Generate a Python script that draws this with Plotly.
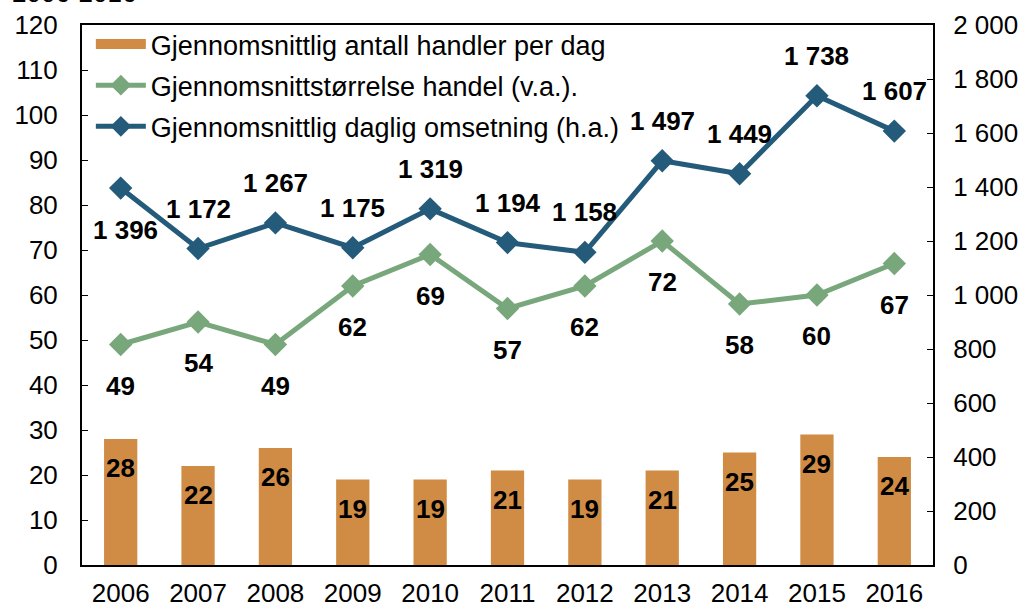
import plotly.graph_objects as go

years = [2006, 2007, 2008, 2009, 2010, 2011, 2012, 2013, 2014, 2015, 2016]
antall_handler = [28, 22, 26, 19, 19, 21, 19, 21, 25, 29, 24]
storrelse = [49, 54, 49, 62, 69, 57, 62, 72, 58, 60, 67]
omsetning = [1396, 1172, 1267, 1175, 1319, 1194, 1158, 1497, 1449, 1738, 1607]
left_ticks = [0, 10, 20, 30, 40, 50, 60, 70, 80, 90, 100, 110, 120]
right_ticks = [0, 200, 400, 600, 800, 1000, 1200, 1400, 1600, 1800, 2000]
right_ticktext = ["0", "200", "400", "600", "800", "1 000", "1 200", "1 400", "1 600", "1 800", "2 000"]
blue_label_above = [False, True, True, True, True, True, True, True, True, True, True]

C_BAR = "#D08C44"
C_GREEN = "#79A77C"
C_BLUE = "#245A7A"
FONT = "Liberation Sans, Arial, sans-serif"
NAME_BAR = "Gjennomsnittlig antall handler per dag"


def fmt(v):
    return f"{v:,}".replace(",", " ")


fig = go.Figure()
fig.add_trace(go.Bar(
    x=years, y=antall_handler, name=NAME_BAR,
    marker=dict(color=C_BAR, line=dict(width=0)), width=0.43, showlegend=False,
))
# legend proxy showing a wide rectangle like the original legend key
fig.add_trace(go.Scatter(
    x=[None], y=[None], name=NAME_BAR, mode="lines",
    line=dict(color=C_BAR, width=12), legendgroup="a",
))
fig.add_trace(go.Scatter(
    x=years, y=storrelse, name="Gjennomsnittstørrelse handel (v.a.).",
    mode="lines+markers", line=dict(color=C_GREEN, width=5),
    marker=dict(symbol="diamond", size=18, color=C_GREEN), legendgroup="b",
))
fig.add_trace(go.Scatter(
    x=years, y=omsetning, name="Gjennomsnittlig daglig omsetning (h.a.)",
    mode="lines+markers", line=dict(color=C_BLUE, width=5),
    marker=dict(symbol="diamond", size=18, color=C_BLUE), yaxis="y2", legendgroup="c",
))

lab_font = dict(family=FONT, size=26, color="black", weight="bold")
annotations = []
for x, v in zip(years, antall_handler):
    annotations.append(dict(x=x, y=v, xref="x", yref="y", text=str(v), showarrow=False,
                            yshift=-29, font=lab_font))
for x, v in zip(years, storrelse):
    annotations.append(dict(x=x, y=v, xref="x", yref="y", text=str(v), showarrow=False,
                            yshift=-41, font=lab_font))
for x, v, up in zip(years, omsetning, blue_label_above):
    annotations.append(dict(x=x, y=v, xref="x", yref="y2", text=fmt(v), showarrow=False,
                            yshift=40 if up else -42, xshift=0 if up else 5, font=lab_font))
annotations.append(dict(x=-0.0846, y=1.0278, xref="paper", yref="paper", xanchor="left",
                        yanchor="bottom", text="2006-2016", showarrow=False,
                        font=dict(family=FONT, size=26, color="black")))

axis_font = dict(family=FONT, size=26, color="black")
fig.update_layout(
    width=1021, height=607,
    margin=dict(l=82, r=88, t=25, b=42, autoexpand=False),
    paper_bgcolor="white", plot_bgcolor="white",
    font=dict(family=FONT, size=26, color="black"),
    showlegend=True,
    legend=dict(x=0.0104, y=1.0092, xanchor="left", yanchor="top", bgcolor="rgba(0,0,0,0)",
                font=dict(family=FONT, size=27, color="black"), tracegroupgap=3,
                itemwidth=50),
    xaxis=dict(range=[2005.5, 2016.5], tickvals=years, showline=True, linecolor="black",
               linewidth=2, mirror=True, ticks="", tickfont=axis_font, showgrid=False,
               zeroline=False, automargin=False, ticklabelstandoff=4),
    yaxis=dict(range=[0, 120], tickvals=left_ticks, showline=True, linecolor="black", linewidth=2,
               ticks="inside", ticklen=6, tickcolor="black", tickfont=axis_font, showgrid=False,
               zeroline=False, ticklabelstandoff=17, automargin=False),
    yaxis2=dict(range=[0, 2000], tickvals=right_ticks, ticktext=right_ticktext, overlaying="y",
                side="right", showline=True, linecolor="black", linewidth=2, ticks="inside",
                ticklen=6, tickcolor="black", tickfont=axis_font, showgrid=False, zeroline=False,
                ticklabelstandoff=13, automargin=False),
    annotations=annotations,
)

fig.write_html(
    "out.html",
    config={"displayModeBar": False},
    post_script="document.body.style.margin='0';document.body.style.overflow='hidden';",
)
